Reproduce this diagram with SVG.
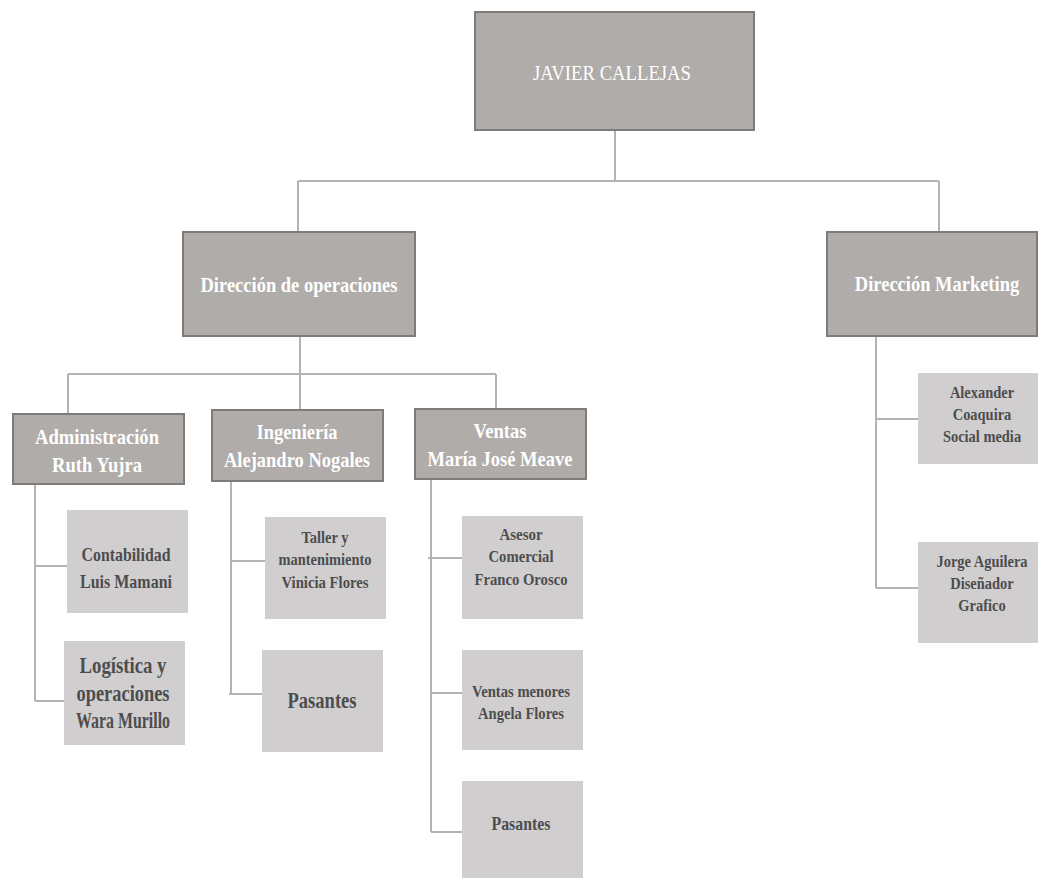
<svg xmlns="http://www.w3.org/2000/svg" width="1038" height="879" viewBox="0 0 1038 879">
<style>
.hd{fill:#afacaa;stroke:#7e7b79;stroke-width:2}
.ch{fill:#d0cecf;stroke:none}
.ln{fill:none;stroke:#b3b3b3;stroke-width:2}
text{font-family:"Liberation Serif","Times New Roman",serif;text-anchor:middle}
.ht{fill:#ffffff;font-weight:bold;font-size:21px}
.ct{fill:#4d4d4d;font-weight:bold;font-size:18px}
</style>
<rect width="1038" height="879" fill="#ffffff"/>
<g id="connectors">
<path class="ln" d="M615,130 V181 M298,181 H939 M298,181 V232 M939,181 V232"/>
<path class="ln" d="M300,336 V374 M68,374 H496 M68,374 V414 M300,374 V410 M496,374 V409"/>
<path class="ln" d="M35,484 V701 M35,566 H67 M35,701 H64"/>
<path class="ln" d="M231,481 V694 M231,561 H265 M229,694 H262"/>
<path class="ln" d="M431,479 V832 M428,558 H462 M431,693 H462 M431,832 H462"/>
<path class="ln" d="M876,336 V588 M876,419 H918 M876,588 H918"/>
</g>
<g id="n-javier">
<rect class="hd" x="475" y="12" width="279" height="118"/>
<text x="612" y="80" style="fill:#fff;font-size:22px" textLength="158" lengthAdjust="spacingAndGlyphs">JAVIER CALLEJAS</text>
</g>
<g id="n-operaciones">
<rect class="hd" x="183" y="232" width="232" height="104"/>
<text class="ht" x="299" y="292" textLength="197" lengthAdjust="spacingAndGlyphs">Dirección de operaciones</text>
</g>
<g id="n-marketing">
<rect class="hd" x="827" y="232" width="210" height="104"/>
<text class="ht" transform="translate(937,291) scale(0.88,1)" x="0" y="0">Dirección Marketing</text>
</g>
<g id="n-administracion">
<rect class="hd" x="13" y="414" width="171" height="70"/>
<text class="ht" x="97" y="444" textLength="124" lengthAdjust="spacingAndGlyphs">Administración</text>
<text class="ht" x="97" y="472" textLength="90" lengthAdjust="spacingAndGlyphs">Ruth Yujra</text>
</g>
<g id="n-ingenieria">
<rect class="hd" x="212" y="410" width="171" height="71"/>
<text class="ht" x="297" y="439" textLength="81" lengthAdjust="spacingAndGlyphs">Ingeniería</text>
<text class="ht" x="297" y="467" textLength="146" lengthAdjust="spacingAndGlyphs">Alejandro Nogales</text>
</g>
<g id="n-ventas">
<rect class="hd" x="415" y="409" width="171" height="70"/>
<text class="ht" x="500" y="438" textLength="53" lengthAdjust="spacingAndGlyphs">Ventas</text>
<text class="ht" x="500" y="466" textLength="145" lengthAdjust="spacingAndGlyphs">María José Meave</text>
</g>
<g id="n-contabilidad">
<rect class="ch" x="67" y="510" width="121" height="103"/>
<text class="ct" x="126" y="561" style="font-size:19px" textLength="89" lengthAdjust="spacingAndGlyphs">Contabilidad</text>
<text class="ct" x="126" y="588" style="font-size:19px" textLength="92" lengthAdjust="spacingAndGlyphs">Luis Mamani</text>
</g>
<g id="n-logistica">
<rect class="ch" x="64" y="641" width="121" height="104"/>
<text class="ct" x="123" y="673" style="font-size:23px" textLength="87" lengthAdjust="spacingAndGlyphs">Logística y</text>
<text class="ct" x="123" y="701" style="font-size:23px" textLength="93" lengthAdjust="spacingAndGlyphs">operaciones</text>
<text class="ct" x="123" y="728" style="font-size:23px" textLength="94" lengthAdjust="spacingAndGlyphs">Wara Murillo</text>
</g>
<g id="n-taller">
<rect class="ch" x="265" y="517" width="121" height="102"/>
<text class="ct" x="325" y="543" style="font-size:17px" textLength="47" lengthAdjust="spacingAndGlyphs">Taller y</text>
<text class="ct" x="325" y="565" style="font-size:17px" textLength="93" lengthAdjust="spacingAndGlyphs">mantenimiento</text>
<text class="ct" x="325" y="588" style="font-size:17px" textLength="87" lengthAdjust="spacingAndGlyphs">Vinicia Flores</text>
</g>
<g id="n-pasantes-ing">
<rect class="ch" x="262" y="650" width="121" height="102"/>
<text class="ct" x="322" y="708" style="font-size:24px" textLength="69" lengthAdjust="spacingAndGlyphs">Pasantes</text>
</g>
<g id="n-asesor">
<rect class="ch" x="462" y="516" width="121" height="103"/>
<text class="ct" x="521" y="540" style="font-size:17px" textLength="43" lengthAdjust="spacingAndGlyphs">Asesor</text>
<text class="ct" x="521" y="562" style="font-size:17px" textLength="65" lengthAdjust="spacingAndGlyphs">Comercial</text>
<text class="ct" x="521" y="585" style="font-size:17px" textLength="93" lengthAdjust="spacingAndGlyphs">Franco Orosco</text>
</g>
<g id="n-ventas-menores">
<rect class="ch" x="462" y="650" width="121" height="100"/>
<text class="ct" x="521" y="697" style="font-size:17px" textLength="98" lengthAdjust="spacingAndGlyphs">Ventas menores</text>
<text class="ct" x="521" y="719" style="font-size:17px" textLength="86" lengthAdjust="spacingAndGlyphs">Angela Flores</text>
</g>
<g id="n-pasantes-ventas">
<rect class="ch" x="462" y="781" width="121" height="97"/>
<text class="ct" x="521" y="830" style="font-size:19px" textLength="59" lengthAdjust="spacingAndGlyphs">Pasantes</text>
</g>
<g id="n-alexander">
<rect class="ch" x="918" y="373" width="120" height="91"/>
<g transform="translate(982,0) scale(0.85,1)">
<text class="ct" x="0" y="398" style="font-size:17px">Alexander</text>
<text class="ct" x="0" y="420" style="font-size:17px">Coaquira</text>
<text class="ct" x="0" y="442" style="font-size:17px">Social media</text>
</g>
</g>
<g id="n-jorge">
<rect class="ch" x="918" y="542" width="120" height="101"/>
<g transform="translate(982,0) scale(0.85,1)">
<text class="ct" x="0" y="567" style="font-size:17px">Jorge Aguilera</text>
<text class="ct" x="0" y="589" style="font-size:17px">Diseñador</text>
<text class="ct" x="0" y="611" style="font-size:17px">Grafico</text>
</g>
</g>
</svg>
